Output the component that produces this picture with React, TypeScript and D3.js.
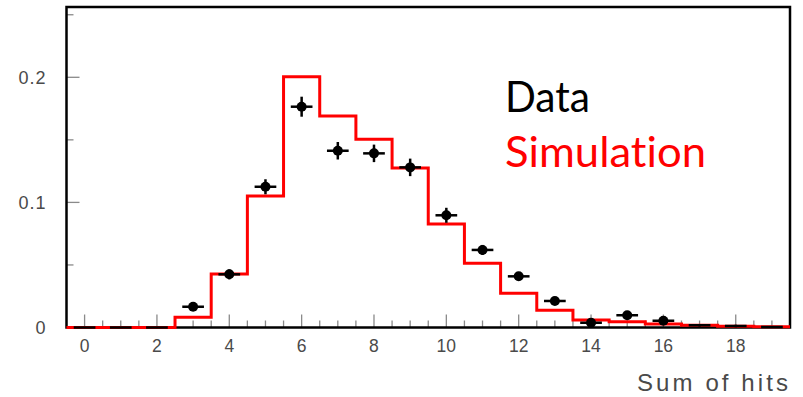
import { useEffect, useRef } from "react";
import * as d3 from "d3";

// bins 0..19 (unit width, edges at half-integers)
const BINS = d3.range(0, 20);
const SIM = [0, 0, 0, 0.0082, 0.0428, 0.1051, 0.2005, 0.169, 0.1504, 0.1275,
  0.0827, 0.0513, 0.0273, 0.0137, 0.006, 0.0046, 0.0028, 0.0018, 0.001, 0.0006];
const DATA = [0, 0, 0, 0.0166, 0.0425, 0.1125, 0.1765, 0.1413, 0.1392, 0.128,
  0.0897, 0.062, 0.0409, 0.0212, 0.0038, 0.0098, 0.0054, 0.0018, 0.0012, 0.0004];
const DATA_ERR = [0, 0, 0, 0.003, 0.004, 0.006, 0.008, 0.007, 0.007, 0.007,
  0.006, 0.004, 0.003, 0.003, 0.002, 0.002, 0.002, 0.001, 0.001, 0.0005];
const X_LABELS = [0, 2, 4, 6, 8, 10, 12, 14, 16, 18];
const Y_LABELS = [0, 0.1, 0.2];

const W = 803, H = 397;
const FRAME = { left: 66.5, right: 790, top: 7, bottom: 327.5 };
const TICK_FONT = "'Liberation Sans', Arial, sans-serif";
const LEGEND_FONT = "Lato, 'Open Sans', sans-serif";

export default function App() {
  const svgRef = useRef(null);

  useEffect(() => {
    const svg = d3.select(svgRef.current);
    svg.selectAll("*").remove();

    const x = d3.scaleLinear().domain([-0.5, 19.5]).range([FRAME.left, FRAME.right]);
    const y = d3.scaleLinear().domain([0, 0.2562]).range([FRAME.bottom, FRAME.top]);

    // ticks (drawn inside the frame)
    const tg = svg.append("g").attr("stroke", "#8a8a8a").attr("stroke-width", 1.3);
    d3.range(0, 19.51, 0.5).forEach(v => {
      const major = v % 2 === 0;
      tg.append("line")
        .attr("x1", x(v)).attr("x2", x(v))
        .attr("y1", FRAME.bottom).attr("y2", FRAME.bottom - (major ? 13 : 7));
    });
    [0.05, 0.1, 0.15, 0.2, 0.25].forEach(v => {
      const major = Math.abs(v * 10 - Math.round(v * 10)) < 1e-6;
      tg.append("line")
        .attr("x1", FRAME.left).attr("x2", FRAME.left + (major ? 13 : 7))
        .attr("y1", y(v)).attr("y2", y(v));
    });

    // frame
    svg.append("rect")
      .attr("x", FRAME.left).attr("y", FRAME.top)
      .attr("width", FRAME.right - FRAME.left).attr("height", FRAME.bottom - FRAME.top)
      .attr("fill", "none").attr("stroke", "#000").attr("stroke-width", 2.5);

    // tick labels
    svg.append("g").selectAll("text").data(X_LABELS).enter().append("text")
      .attr("x", d => x(d)).attr("y", 352)
      .attr("text-anchor", "middle").attr("fill", "#4a4a4a")
      .attr("font-family", TICK_FONT).attr("font-size", 17.5)
      .text(d => d);
    svg.append("g").selectAll("text").data(Y_LABELS).enter().append("text")
      .attr("x", 46.5).attr("y", d => y(d) + 6.5)
      .attr("text-anchor", "end").attr("fill", "#4a4a4a")
      .attr("font-family", TICK_FONT).attr("font-size", 18)
      .attr("letter-spacing", 1)
      .text(d => d === 0 ? "0" : d.toFixed(1));

    // axis title
    svg.append("text")
      .attr("x", 788).attr("y", 391).attr("text-anchor", "end")
      .attr("fill", "#4a4a4a").attr("font-family", TICK_FONT).attr("font-size", 24)
      .attr("textLength", 151).attr("lengthAdjust", "spacing")
      .text("Sum of hits");

    // simulation histogram
    const steps = BINS.map((b, i) => [b - 0.5, SIM[i]]);
    steps.push([19.5, SIM[SIM.length - 1]]);
    const line = d3.line().x(d => x(d[0])).y(d => y(d[1])).curve(d3.curveStepAfter);
    svg.append("path").datum(steps)
      .attr("d", line).attr("fill", "none")
      .attr("stroke", "#ff0000").attr("stroke-width", 3);

    // data points with error bars
    const dg = svg.append("g").attr("stroke", "#000").attr("stroke-width", 2.5);
    BINS.forEach((b, i) => {
      const v = DATA[i], e = DATA_ERR[i];
      dg.append("line")
        .attr("x1", x(b - 0.3)).attr("x2", x(b + 0.3))
        .attr("y1", y(v)).attr("y2", y(v));
      if (e > 0) {
        dg.append("line")
          .attr("x1", x(b)).attr("x2", x(b))
          .attr("y1", y(v + e)).attr("y2", Math.min(y(v - e), FRAME.bottom));
      }
      if (v >= 0.003) {
        svg.append("circle")
          .attr("cx", x(b)).attr("cy", y(v)).attr("r", 5).attr("fill", "#000");
      }
    });

    // legend
    svg.append("text")
      .attr("x", 505).attr("y", 112)
      .attr("font-family", LEGEND_FONT).attr("font-size", 42)
      .style("font-variant-ligatures", "none")
      .attr("textLength", 85).attr("lengthAdjust", "spacingAndGlyphs")
      .attr("fill", "#000").text("Data");
    svg.append("text")
      .attr("x", 505).attr("y", 167)
      .attr("font-family", LEGEND_FONT).attr("font-size", 42)
      .style("font-variant-ligatures", "none")
      .attr("textLength", 201).attr("lengthAdjust", "spacingAndGlyphs")
      .attr("fill", "#ff0000").text("Simulation");
  }, []);

  return (
    <div style={{ position: "absolute", left: 0, top: 0, background: "#fff" }}>
      <svg ref={svgRef} width={W} height={H} style={{ display: "block" }} />
    </div>
  );
}
